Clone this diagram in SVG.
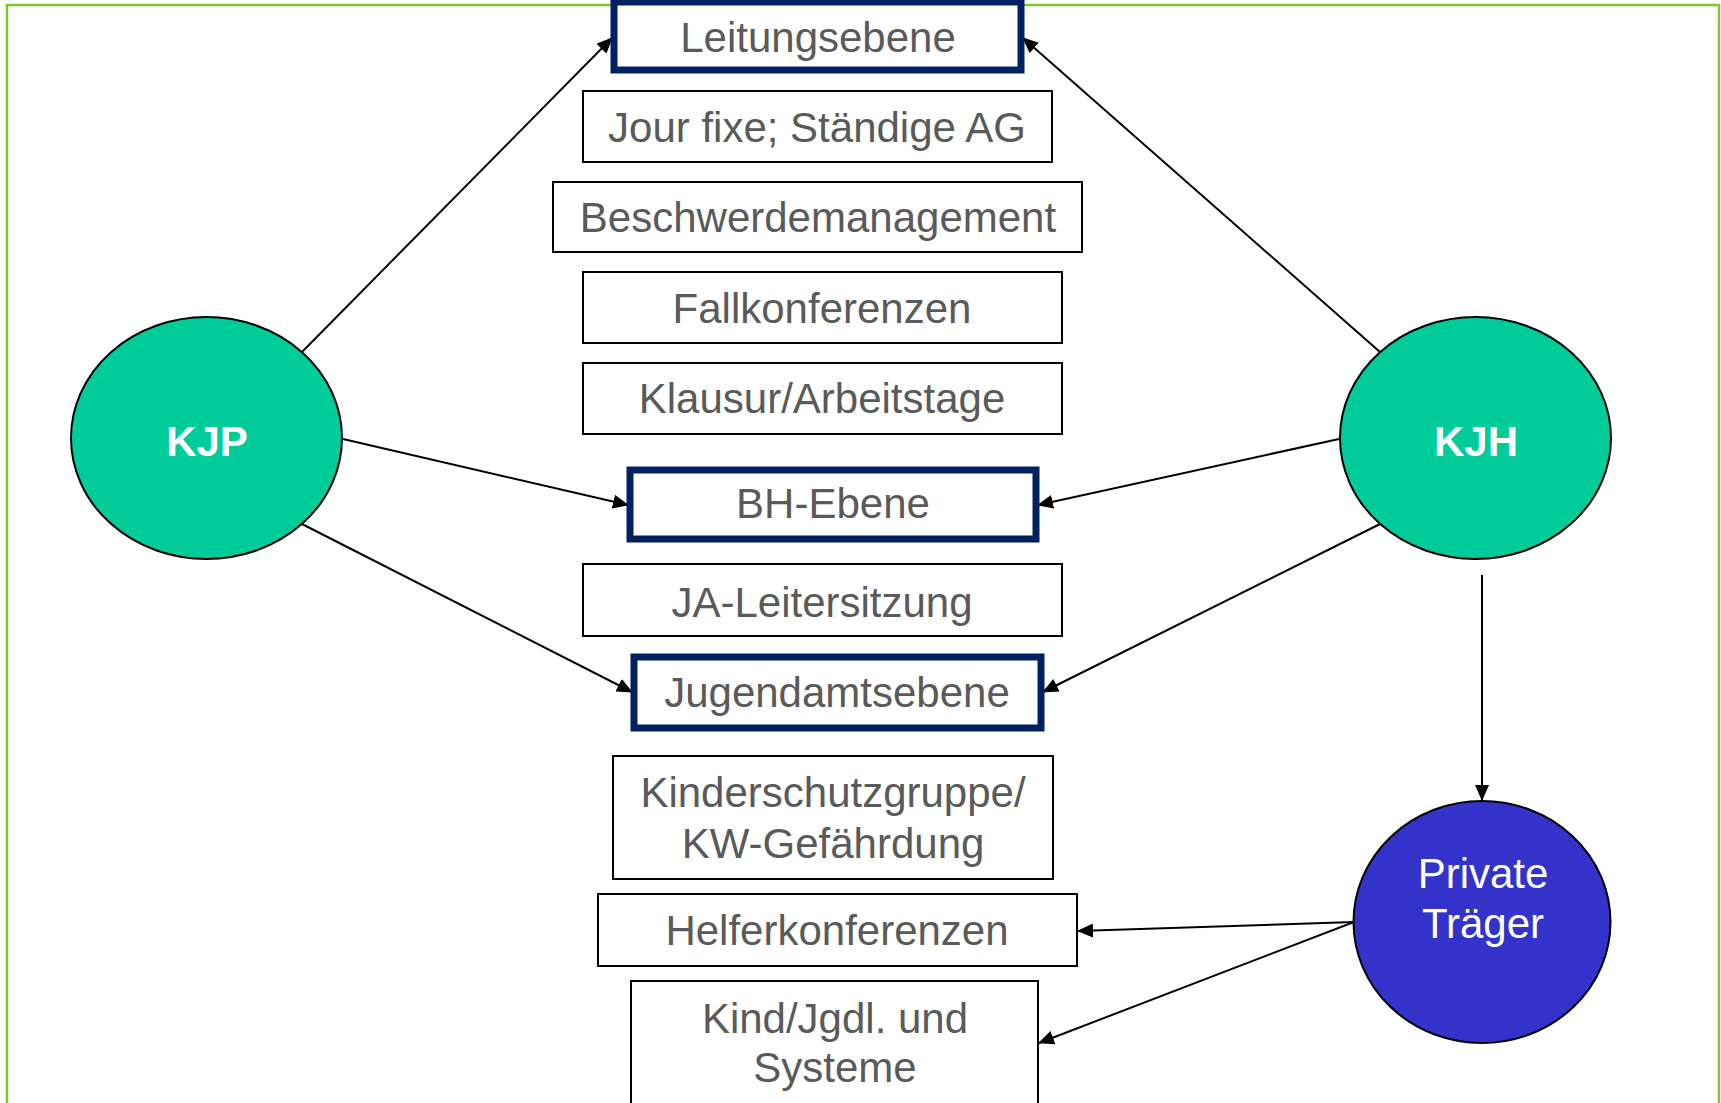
<svg xmlns="http://www.w3.org/2000/svg" width="1721" height="1103" viewBox="0 0 1721 1103">
<style>
.box{fill:#fff;stroke:#000;stroke-width:2}
.lvl{fill:#fff;stroke:#002060;stroke-width:7}
.t{font-family:"Liberation Sans",Arial,sans-serif;font-size:42px;fill:#5a5a5a;text-anchor:middle}
.w{font-family:"Liberation Sans",Arial,sans-serif;font-size:42px;fill:#fff;text-anchor:middle}
.b{font-weight:bold}
.ell{stroke:#000;stroke-width:2}
.c{stroke:#000;stroke-width:2;fill:none;marker-end:url(#ah)}
</style>
<defs>
<marker id="ah" markerUnits="userSpaceOnUse" markerWidth="16" markerHeight="14" refX="15" refY="7" orient="auto">
<path d="M0,0 L16,7 L0,14 z" fill="#000"/>
</marker>
</defs>
<rect x="0" y="0" width="1721" height="1103" fill="#fff"/>
<rect x="7" y="5" width="1712" height="1120" fill="none" stroke="#7EC82A" stroke-width="2.5"/>

<g id="connectors">
<line class="c" x1="302" y1="352" x2="612" y2="38"/>
<line class="c" x1="1380" y1="352" x2="1023" y2="38"/>
<line class="c" x1="343" y1="439" x2="628" y2="505"/>
<line class="c" x1="1339" y1="439" x2="1038" y2="505"/>
<line class="c" x1="302" y1="524" x2="632" y2="692"/>
<line class="c" x1="1380" y1="524" x2="1043" y2="692"/>
<line class="c" x1="1482" y1="575" x2="1482" y2="800"/>
<line class="c" x1="1354" y1="922" x2="1078" y2="931"/>
<line class="c" x1="1354" y1="922" x2="1039" y2="1043"/>
</g>

<g id="leitungsebene"><rect class="lvl" x="614" y="2" width="407" height="68"/><text class="t" x="818" y="52">Leitungsebene</text></g>
<g id="jourfixe"><rect class="box" x="583" y="91" width="469" height="71"/><text class="t" x="817" y="142">Jour fixe; Ständige AG</text></g>
<g id="beschwerde"><rect class="box" x="553" y="182" width="529" height="70"/><text class="t" x="818" y="232">Beschwerdemanagement</text></g>
<g id="fallkonferenzen"><rect class="box" x="583" y="272" width="479" height="71"/><text class="t" x="822" y="323">Fallkonferenzen</text></g>
<g id="klausur"><rect class="box" x="583" y="363" width="479" height="71"/><text class="t" x="822" y="413">Klausur/Arbeitstage</text></g>
<g id="bhebene"><rect class="lvl" x="630" y="470" width="406" height="69"/><text class="t" x="833" y="518">BH-Ebene</text></g>
<g id="jaleiter"><rect class="box" x="583" y="564" width="479" height="72"/><text class="t" x="822" y="617">JA-Leitersitzung</text></g>
<g id="jugendamtsebene"><rect class="lvl" x="634" y="657" width="407" height="71"/><text class="t" x="837" y="707">Jugendamtsebene</text></g>
<g id="kinderschutz"><rect class="box" x="613" y="756" width="440" height="123"/><text class="t" x="833" y="807">Kinderschutzgruppe/</text><text class="t" x="833" y="858">KW-Gefährdung</text></g>
<g id="helfer"><rect class="box" x="598" y="894" width="479" height="72"/><text class="t" x="837" y="945">Helferkonferenzen</text></g>
<g id="kind"><rect class="box" x="631" y="981" width="407" height="140"/><text class="t" x="835" y="1033">Kind/Jgdl. und</text><text class="t" x="835" y="1082">Systeme</text></g>

<g id="kjp"><ellipse class="ell" cx="206.5" cy="438" rx="135.5" ry="121" fill="#00CC99"/><text class="w b" x="207" y="456">KJP</text></g>
<g id="kjh"><ellipse class="ell" cx="1475.5" cy="438" rx="135.5" ry="121" fill="#00CC99"/><text class="w b" x="1476" y="456">KJH</text></g>
<g id="private"><ellipse class="ell" cx="1482" cy="922" rx="128.5" ry="121" fill="#3333CC"/><text class="w" x="1483" y="888">Private</text><text class="w" x="1483" y="938">Träger</text></g>
</svg>
